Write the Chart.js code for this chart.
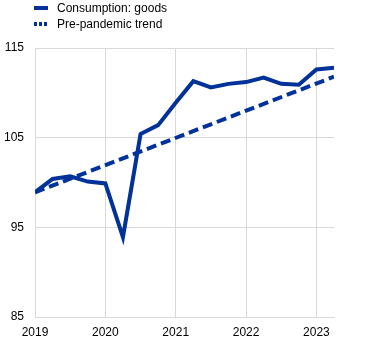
<!DOCTYPE html>
<html>
<head>
<meta charset="utf-8">
<script src="https://cdn.jsdelivr.net/npm/chart.js@4"></script>
<style>
  html, body { margin: 0; padding: 0; background: #fff; }
  #wrap { width: 370px; height: 343px; }
</style>
</head>
<body>
<div id="wrap"><canvas id="chart" width="370" height="343"></canvas></div>
<script>
// quarterly index values
const quarters = ['2019Q1', '2019Q2', '2019Q3', '2019Q4', '2020Q1', '2020Q2', '2020Q3', '2020Q4',
                  '2021Q1', '2021Q2', '2021Q3', '2021Q4', '2022Q1', '2022Q2', '2022Q3', '2022Q4',
                  '2023Q1', '2023Q2'];
const goods = [98.9, 100.4, 100.7, 100.1, 99.9, 93.9, 105.4, 106.4,
               108.9, 111.3, 110.6, 111.0, 111.2, 111.7, 111.0, 110.9,
               112.6, 112.8];
const trendQuarters = ['2019Q1', '2023Q2'];
const trendValues = [98.9, 111.8];
const yearTicks = [2019, 2020, 2021, 2022, 2023];
const yTicks = [85, 95, 105, 115];

const blue = '#003299';
const grid = '#d9d9d9';
const font = { family: '"Liberation Sans", Arial, sans-serif', size: 12 };

const toYear = q => Number(q.slice(0, 4)) + (Number(q.slice(5)) - 1) / 4;
const pts = (qs, vals) => qs.map((q, i) => ({ x: toYear(q), y: vals[i] }));

const legendItems = [
    { text: 'Consumption: goods', dash: [] },
    { text: 'Pre-pandemic trend', dash: [3, 2] }
];

const legendPlugin = {
    id: 'stackedLegend',
    afterDraw(chart) {
        const ctx = chart.ctx;
        ctx.save();
        legendItems.forEach((item, i) => {
            const y = 8 + i * 16;
            ctx.strokeStyle = blue;
            ctx.lineWidth = 4;
            ctx.setLineDash(item.dash);
            ctx.beginPath();
            ctx.moveTo(34, y);
            ctx.lineTo(48, y);
            ctx.stroke();
            ctx.setLineDash([]);
            ctx.fillStyle = '#000';
            ctx.font = `${font.size}px ${font.family}`;
            ctx.textBaseline = 'middle';
            ctx.fillText(item.text, 57, y + 1);
        });
        ctx.restore();
    }
};

new Chart(document.getElementById('chart'), {
    type: 'line',
    data: {
        datasets: [{
            label: 'Consumption: goods',
            data: pts(quarters, goods),
            borderColor: blue,
            borderWidth: 4,
            pointRadius: 0,
            tension: 0
        }, {
            label: 'Pre-pandemic trend',
            data: pts(trendQuarters, trendValues),
            borderColor: blue,
            borderWidth: 4,
            borderDash: [10, 5],
            pointRadius: 0,
            tension: 0
        }]
    },
    options: {
        responsive: false,
        animation: false,
        events: [],
        layout: { padding: { top: 48, right: 36, bottom: 4, left: 0 } },
        plugins: { legend: { display: false }, tooltip: { enabled: false } },
        scales: {
            x: {
                type: 'linear',
                min: toYear(quarters[0]),
                max: toYear(quarters[quarters.length - 1]),
                afterBuildTicks: s => { s.ticks = yearTicks.map(v => ({ value: v })); },
                afterFit: s => { s.height = 22; },
                ticks: { color: '#000', font, padding: 8, maxRotation: 0, callback: v => String(v) },
                grid: { color: grid, drawTicks: false },
                border: { color: grid }
            },
            y: {
                min: 85,
                max: 115,
                afterBuildTicks: s => { s.ticks = yTicks.map(v => ({ value: v })); },
                afterFit: s => { s.width = 35; },
                ticks: { color: '#000', font, padding: 11 },
                grid: { color: grid, drawTicks: false },
                border: { color: grid }
            }
        }
    },
    plugins: [legendPlugin]
});
</script>
</body>
</html>
